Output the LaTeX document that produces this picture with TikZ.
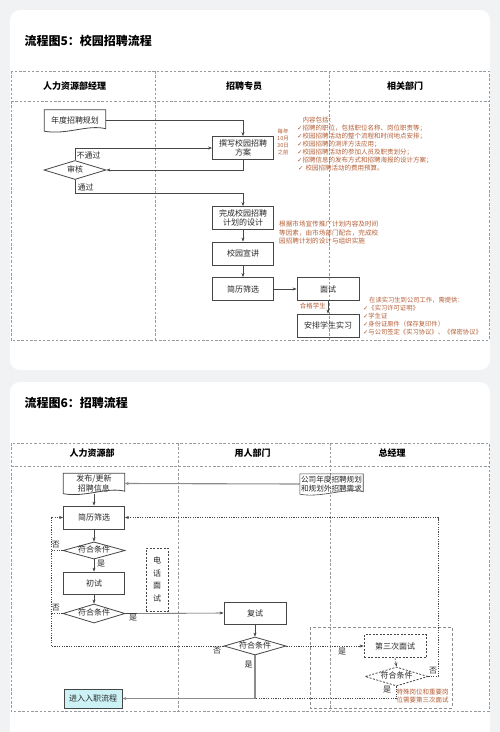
\documentclass[tikz,border=0pt]{standalone}
\usepackage{fontspec}
\setmainfont{Noto Sans CJK SC}
\newfontfamily\dejavu{DejaVu Sans}
\usetikzlibrary{shapes.geometric,arrows.meta}
\definecolor{bgc}{RGB}{240,242,244}
\definecolor{lanec}{RGB}{150,155,160}
\definecolor{boxc}{RGB}{70,70,70}
\definecolor{txtc}{RGB}{40,40,40}
\definecolor{notec}{RGB}{180,95,55}
\definecolor{cyanfill}{RGB}{204,242,246}
\definecolor{thickc}{RGB}{140,140,140}
\newcommand\mychk{{\dejavu ✓}}
\newcommand\docoutline[2][]{\draw[draw=boxc, line width=0.8pt, #1] (#2.north west) -- (#2.north east) -- ([yshift=2.5pt]#2.south east) .. controls ([xshift=-18pt,yshift=7pt]#2.south east) and ([xshift=22pt,yshift=-4pt]#2.south west) .. (#2.south west) -- cycle;}
\begin{document}
\begin{tikzpicture}[x=1pt,y=-1pt,
  lane/.style={draw=lanec, line width=0.6pt, dash pattern=on 2.5pt off 1.8pt},
  titlenode/.style={anchor=west, text=black, font=\bfseries\fontsize{12}{14}\selectfont},
  hdr/.style={text=black, font=\bfseries\fontsize{9}{11}\selectfont},
  stepbox/.style={draw=boxc, line width=0.8pt, minimum width=61pt, minimum height=23pt, inner sep=1pt, align=center, text=txtc, font=\fontsize{8}{9.5}\selectfont},
  docbox/.style={minimum width=61pt, minimum height=21pt, inner sep=1pt, align=center, text=txtc, font=\fontsize{8}{9.5}\selectfont},
  decision/.style={diamond, draw=boxc, line width=0.8pt, aspect=3, minimum width=62pt, minimum height=19pt, inner sep=0pt, text height=5.5pt, text depth=1pt, text=txtc, font=\fontsize{8}{9.5}\selectfont},
  conn/.style={draw=boxc, line width=0.6pt, -{Stealth[length=4pt,width=3pt]}},
  thickconn/.style={draw=thickc, line width=1.1pt, -{Stealth[length=4pt,width=3.2pt]}},
  dotline/.style={draw=boxc, line width=0.6pt, dash pattern=on 1.2pt off 1.2pt},
  dotconn/.style={dotline, -{Stealth[length=4pt,width=3pt]}},
  dashconn/.style={draw=boxc, line width=0.6pt, dash pattern=on 2pt off 1.5pt, -{Stealth[length=4pt,width=3pt]}},
  dashbox/.style={dash pattern=on 2pt off 1.5pt},
  lbl/.style={text=txtc, inner sep=0.5pt, font=\fontsize{8}{9.5}\selectfont},
  note/.style={text=notec, inner sep=1pt, font=\fontsize{6.5}{7.9}\selectfont}
]
\useasboundingbox (0,0) rectangle (500,732);
\fill[bgc] (0,0) rectangle (500,732);
\fill[white, rounded corners=10pt] (10,10) rectangle (490,370);
\fill[white, rounded corners=10pt] (10,382) rectangle (490,760);

% ---------------- Diagram 5 ----------------
\node[titlenode] (t1) at (21,41) {流程图5：校园招聘流程};
\draw[lane] (11,71) rectangle (489,340);
\draw[lane] (11,101) -- (489,101);
\draw[lane] (155,71) -- (155,340);
\draw[lane] (329,71) -- (329,340);
\node[hdr] (h11) at (74.5,86) {人力资源部经理};
\node[hdr] (h12) at (244,86) {招聘专员};
\node[hdr] (h13) at (405,86) {相关部门};

\node[docbox] (plan) at (75,120.5) {年度招聘规划};
\docoutline{plan}
\node[stepbox] (write) at (243,148) {撰写校园招聘\\方案};
\node[decision] (audit) at (75,170) {审核};
\node[stepbox] (done) at (243,218) {完成校园招聘\\计划的设计};
\node[stepbox] (talk) at (243,253.5) {校园宣讲};
\node[stepbox] (scr) at (243,289) {简历筛选};
\node[stepbox, minimum width=62pt] (iv) at (328,289) {面试};
\node[stepbox, minimum width=62pt] (intern) at (328,325.5) {安排学生实习};

\draw[conn] (plan.east) -| (write.north);
\draw[conn] (audit.north) |- (write.west);
\node[lbl, anchor=west] (l1) at (76,155) {不通过};
\draw[conn] (write.south) |- (audit.east);
\draw[conn] (audit.south) -- ++(0,13) -| (done.north);
\node[lbl, anchor=west] (l2) at (77,187) {通过};
\draw[conn] (done.south) -- (talk.north);
\draw[conn] (talk.south) -- (scr.north);
\draw[conn] (scr.east) -- (iv.west);
\draw[conn] (iv.south) -- (intern.north);
\node[note, anchor=east] (l3) at (327,306) {合格学生};

\node[note, anchor=north, align=center, font=\fontsize{5.5}{7}\selectfont] (n1) at (283,127.5) {每年\\10月\\30日\\之前};
\node[note, anchor=north west, align=left] (n2) at (296,116) {\hspace{5.5pt}内容包括：\\
\mychk 招聘的职位，包括职位名称、岗位职责等；\\
\mychk 校园招聘活动的整个流程和时间地点安排；\\
\mychk 校园招聘的测评方法应用；\\
\mychk 校园招聘活动的参加人员及职责划分；\\
\mychk 招聘信息的发布方式和招聘海报的设计方案；\\
\hspace{1pt}\mychk\hspace{2pt}校园招聘活动的费用预算。};
\node[note, anchor=north west, align=left, font=\fontsize{6.6}{8.3}\selectfont] (n3) at (278,220) {根据市场宣传推广计划内容及时间\\等因素，由市场部门配合，完成校\\园招聘计划的设计与组织实施};
\node[note, anchor=north west, align=left, font=\fontsize{6.3}{8.2}\selectfont] (n4) at (362,295.5) {\hspace{6pt}在读实习生到公司工作，需提供：\\
\mychk《实习许可证明》\\
\mychk 学生证\\
\mychk 身份证原件（保存复印件）\\
\mychk 与公司签定《实习协议》、《保密协议》};

% ---------------- Diagram 6 ----------------
\node[titlenode] (t2) at (21,403) {流程图6：招聘流程};
\draw[lane] (11,443) rectangle (489,711);
\draw[lane] (11,466) -- (489,466);
\draw[lane] (178,443) -- (178,711);
\draw[lane] (330,443) -- (330,711);
\node[hdr] (h21) at (92,453) {人力资源部};
\node[hdr] (h22) at (252.5,453) {用人部门};
\node[hdr] (h23) at (392,453) {总经理};

\draw[draw=thickc, line width=0.7pt, dash pattern=on 3pt off 2pt] (310,627) rectangle (452,708);

\node[docbox, minimum height=20pt] (pub) at (94,483.5) {发布/更新\\招聘信息};
\docoutline{pub}
\node[docbox, minimum width=63pt, minimum height=20pt, font=\fontsize{7.6}{9}\selectfont] (need) at (331.5,484) {公司年度招聘规划\\和规划外招聘需求};
\docoutline[line width=0.6pt]{need}
\node[stepbox] (scr2) at (94,517.5) {简历筛选};
\node[decision, minimum height=17pt] (c1) at (94,550.5) {符合条件};
\node[stepbox, minimum height=22pt] (first) at (94,583) {初试};
\node[decision] (c2) at (94,613.5) {符合条件};
\node[stepbox, dashbox, minimum width=22pt, minimum height=63pt, font=\fontsize{8}{12.5}\selectfont] (phone) at (157,579.5) {电\\话\\面\\试};
\node[stepbox, minimum width=62pt, minimum height=22pt] (re) at (255,613) {复试};
\node[decision, minimum height=18pt] (c3) at (255,646) {符合条件};
\node[stepbox, fill=cyanfill, minimum width=58pt, minimum height=19pt] (onb) at (93,698.5) {进入入职流程};
\node[stepbox, dashbox, minimum width=62pt] (third) at (395,646) {第三次面试};
\node[decision, dashbox, minimum width=63pt] (c4) at (396.5,676.5) {符合条件};
\node[note, anchor=west, align=left, font=\fontsize{6.5}{7.5}\selectfont] (n5) at (395.5,696) {特殊岗位和重要岗\\位需要第三次面试};

\coordinate (join) at (255,698.5);
\coordinate (ltop) at (51,517.5);
\coordinate (rtop) at (438,517.5);

\draw[thickconn] (need.west) -- (pub.east);
\draw[conn] (pub.south) -- (scr2.north);
\draw[conn] (scr2.south) -- (c1.north);
\draw[conn] (c1.south) -- (first.north);
\node[lbl] (y1) at (101,563.5) {是};
\draw[conn] (first.south) -- (c2.north);
\draw[conn] (c2.east) -- (re.west);
\node[lbl] (y2) at (133,618) {是};
\draw[conn] (re.south) -- (c3.north);
\draw[thickconn] (c3.south) |- (onb.east);
\node[lbl] (y3) at (248.5,665) {是};
\draw[dotconn] (c3.east) -- (third.west);
\node[lbl] (y4) at (342,651.5) {是};
\draw[dashconn] (third.south) -- (c4.north);
\draw[dotline] (c4.south) |- (join);
\node[lbl] (y5) at (387,690) {是};
\draw[dotconn] (c4.east) -| (rtop) -- (scr2.east);
\node[lbl] (x1) at (433,671) {否};
\draw[dotconn] (c3.west) -| (ltop) -- (scr2.west);
\draw[dotline] (c1.west) -- (c1.west -| ltop);
\draw[dotline] (c2.west) -- (c2.west -| ltop);
\node[lbl] (x2) at (56,544.5) {否};
\node[lbl] (x3) at (56,607.5) {否};
\node[lbl] (x4) at (217,651) {否};
\end{tikzpicture}
\end{document}
